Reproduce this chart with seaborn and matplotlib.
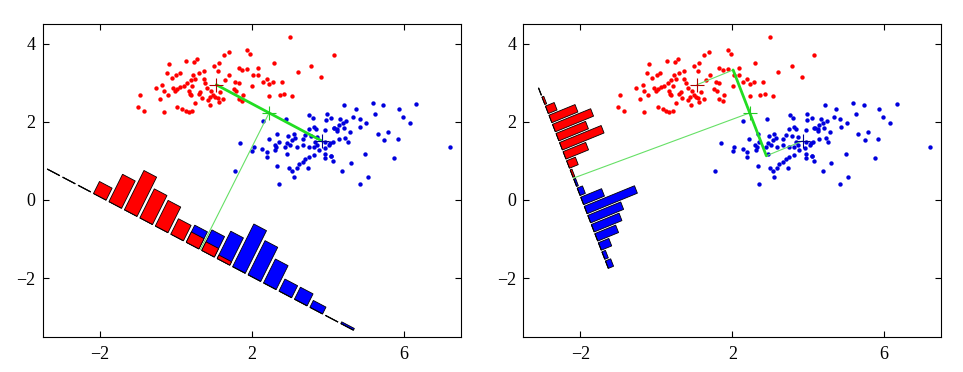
#!/usr/bin/env python
# -*- coding: utf-8 -*-

"""
Two-class data projected onto a line: the left panel uses the line joining the
class means, the right panel uses the Fisher linear discriminant direction.
"""

import numpy as np
import matplotlib
matplotlib.use("Agg")
import matplotlib.pyplot as plt
import matplotlib.transforms as mtransforms
import seaborn as sns

# -------------------------------
# Data
# -------------------------------
red_x = [1.40, 1.26, 1.13, 1.00, 1.11, 1.41, 1.31, 0.74, 0.61, 0.47, 0.11, 0.02,
         -0.10, -0.18, -0.24, 0.28, 0.49, 0.56, 0.40, 0.52, 0.74, 0.78, 0.30, 0.21,
         0.12, 0.04, -0.07, -0.01, -0.53, -0.36, -0.31, -0.21, -0.42, 0.34, 0.43, 0.37,
         0.40, 0.61, 0.65, 0.83, 0.94, 0.98, 0.90, 0.84, 0.69, 0.52, 1.04, 1.11,
         1.18, 1.25, 1.13, 0.91, 0.17, 0.26, 0.04, -0.31, -0.95, -1.00, -0.84, 0.43,
         0.34, 3.00, 1.88, 1.97, 4.16, 1.66, 1.75, 1.88, 2.17, 2.60, 3.56, 3.21,
         3.83, 2.04, 2.18, 2.40, 2.29, 2.47, 2.56, 2.80, 2.01, 1.57, 1.66, 1.53,
         1.60, 1.77, 1.66, 1.75, 2.47, 2.74, 2.86, 3.06]
red_y = [3.80, 3.71, 3.51, 3.42, 3.31, 3.19, 3.06, 3.29, 3.25, 3.19, 3.25, 3.20,
         3.12, 3.47, 3.25, 3.55, 3.54, 3.61, 3.06, 3.10, 3.10, 3.00, 3.00, 2.93,
         2.89, 2.85, 2.86, 2.80, 2.86, 2.95, 2.78, 2.69, 2.58, 2.80, 2.91, 2.72,
         2.68, 2.72, 2.76, 2.86, 2.80, 2.68, 2.64, 2.55, 2.61, 2.49, 2.64, 2.61,
         2.76, 2.58, 2.51, 2.42, 2.34, 2.29, 2.38, 2.24, 2.68, 2.38, 2.27, 2.27,
         2.24, 4.16, 3.84, 3.74, 3.71, 3.37, 3.33, 3.36, 3.38, 3.51, 3.44, 3.27,
         3.14, 3.20, 3.21, 3.10, 3.02, 2.97, 3.02, 3.03, 2.91, 3.02, 3.00, 2.85,
         2.80, 2.70, 2.58, 2.53, 2.66, 2.70, 2.72, 2.65]

blue_x = [2.29, 2.91, 3.52, 3.61, 3.98, 3.96, 4.16, 3.94, 3.63, 3.69, 3.50, 3.57,
          3.41, 3.72, 3.11, 2.97, 3.15, 3.06, 3.34, 2.67, 2.45, 2.71, 2.61, 2.64,
          2.93, 3.02, 2.89, 3.19, 3.34, 3.50, 3.63, 3.72, 3.68, 3.94, 4.04, 4.13,
          3.76, 3.92, 3.94, 4.10, 3.94, 3.63, 3.50, 3.41, 3.34, 3.24, 3.48, 3.19,
          2.99, 3.06, 3.11, 2.67, 2.27, 2.40, 2.40, 2.62, 2.93, 2.01, 2.05, 1.70,
          1.55, 2.71, 5.19, 5.46, 4.44, 4.74, 5.25, 5.87, 6.33, 5.98, 6.16, 4.67,
          4.84, 4.09, 4.33, 4.49, 4.40, 4.29, 4.18, 4.26, 4.42, 4.26, 5.02, 4.86,
          4.58, 5.32, 5.58, 5.84, 5.49, 4.47, 4.29, 4.53, 4.07, 7.21, 4.99, 5.76,
          4.09, 4.14, 4.61, 4.38, 5.05, 4.84]
blue_y = [2.02, 2.07, 2.17, 2.10, 2.19, 2.04, 1.85, 1.80, 1.87, 1.81, 1.83, 1.64,
          1.66, 1.62, 1.68, 1.64, 1.58, 1.53, 1.55, 1.68, 1.55, 1.49, 1.42, 1.36,
          1.45, 1.42, 1.36, 1.36, 1.42, 1.36, 1.36, 1.42, 1.49, 1.49, 1.42, 1.49,
          1.28, 1.32, 1.19, 1.13, 1.07, 1.15, 1.11, 1.05, 0.98, 0.91, 0.83, 0.81,
          0.83, 0.73, 0.60, 0.88, 1.30, 1.22, 1.11, 1.28, 1.17, 1.25, 1.36, 1.45,
          0.75, 0.41, 2.48, 2.42, 2.42, 2.34, 2.21, 2.34, 2.45, 2.13, 1.96, 2.13,
          2.08, 2.10, 2.08, 2.02, 1.96, 1.93, 1.85, 1.83, 1.85, 1.76, 1.98, 1.87,
          1.73, 1.68, 1.73, 1.56, 1.53, 1.59, 1.56, 1.49, 1.45, 1.36, 1.17, 1.07,
          1.13, 1.00, 0.94, 0.73, 0.58, 0.41]

red_mean = [1.07, 2.95]
blue_mean = [3.85, 1.51]

# histograms of the projected values, 20 bins along each projection line
bin_index = np.arange(20)
left_red_counts = [0, 0, 0, 7, 16, 23, 17, 15, 9, 6, 5, 2, 0, 0, 0, 0, 0, 0, 0, 0]
left_blue_counts = [0, 0, 0, 0, 0, 0, 0, 0, 0, 10, 12, 16, 25, 20, 14, 7, 7, 4, 0, 1]
right_red_counts = [0, 1, 5, 15, 22, 17, 24, 13, 5, 1, 0, 0, 0, 0, 0, 0, 0, 0, 0, 0]
right_blue_counts = [0, 0, 0, 0, 0, 0, 0, 0, 0, 0, 1, 3, 12, 29, 19, 16, 12, 6, 2, 3]

# projection lines: direction angle (deg), point where the threshold hits the line
left_angle = -27.1
right_angle = -68.3
left_foot = [0.65, -1.27]
right_foot = [-2.18, 0.56]
left_bin_width = 0.457
right_bin_width = 0.251
count_scale = 0.049

RED = "#ff0000"
BLUE = "#0000ff"
GREEN_THICK = "#22dd22"
GREEN_THIN = "#66e066"


# -------------------------------
# Functions
# -------------------------------
def draw_histogram(ax, angle, foot, bin_width, red_counts, blue_counts):
    """
    Draw histograms of the projected data as bars standing on a rotated line.
    The bars are built in (position along line, height) coordinates and mapped
    into data space by an affine transform.
    """
    a = np.deg2rad(angle)
    u = np.array([np.cos(a), np.sin(a)])
    n = np.array([-u[1], u[0]])
    mat = np.array([[u[0], n[0], foot[0]],
                    [u[1], n[1], foot[1]],
                    [0.0, 0.0, 1.0]])
    trans = mtransforms.Affine2D(mat) + ax.transData

    starts = (bin_index - 10) * bin_width + 0.09 * bin_width
    width = 0.82 * bin_width
    # the line itself: one short dash per bin
    ax.bar(starts, np.zeros(len(bin_index)), width=width, align="edge",
           fill=False, edgecolor="black", linewidth=0.9, transform=trans, zorder=3)
    ax.bar(starts, np.array(blue_counts) * count_scale, width=width, align="edge",
           color=BLUE, edgecolor="black", linewidth=0.6, transform=trans, zorder=3)
    ax.bar(starts, np.array(red_counts) * count_scale, width=width, align="edge",
           color=RED, edgecolor="black", linewidth=0.6, transform=trans, zorder=3)
    return u


def style_axes(ax):
    ax.set_xlim(-3.5, 7.5)
    ax.set_ylim(-3.5, 4.5)
    ax.set_xticks([-2, 2, 6])
    ax.set_yticks([-2, 0, 2, 4])
    ax.tick_params(direction="in", top=True, right=True, length=4, width=0.8,
                   labelsize=13, colors="black")
    ax.tick_params(axis="x", pad=7)
    ax.tick_params(axis="y", pad=5)
    for sp in ax.spines.values():
        sp.set_visible(True)
        sp.set_color("black")
        sp.set_linewidth(0.8)
    ax.set_xlabel("")
    ax.set_ylabel("")


def draw_panel(ax, angle, foot, bin_width, red_counts, blue_counts, fisher):
    sns.scatterplot(x=red_x, y=red_y, color=RED, s=10, linewidth=0, ax=ax,
                    legend=False, zorder=2)
    sns.scatterplot(x=blue_x, y=blue_y, color="#0000dd", s=10, linewidth=0, ax=ax,
                    legend=False, zorder=2)

    u = draw_histogram(ax, angle, foot, bin_width, red_counts, blue_counts)

    m1 = np.array(red_mean)
    m2 = np.array(blue_mean)
    mid = (m1 + m2) / 2
    ax.plot([mid[0], foot[0]], [mid[1], foot[1]], color=GREEN_THIN, lw=0.8, zorder=4)
    if fisher:
        p1 = mid + np.dot(m1 - mid, u) * u
        p2 = mid + np.dot(m2 - mid, u) * u
        ax.plot([m1[0], p1[0]], [m1[1], p1[1]], color=GREEN_THIN, lw=0.8, zorder=4)
        ax.plot([p2[0], m2[0]], [p2[1], m2[1]], color=GREEN_THIN, lw=0.8, zorder=4)
        ax.plot([p1[0], p2[0]], [p1[1], p2[1]], color=GREEN_THICK, lw=2.0, zorder=4)
    else:
        ax.plot([m1[0], m2[0]], [m1[1], m2[1]], color=GREEN_THICK, lw=2.0, zorder=4)

    ax.plot(*m1, marker="+", color="#b00000", ms=10, mew=0.8, zorder=5)
    ax.plot(*m2, marker="+", color="#000090", ms=10, mew=0.8, zorder=5)
    ax.plot(*mid, marker="+", color="#22cc22", ms=10, mew=0.8, zorder=5)
    style_axes(ax)


# -------------------------------
# Main
# -------------------------------
def main():
    sns.set_style("ticks")
    plt.rcParams["font.family"] = ["Liberation Serif", "DejaVu Serif"]

    fig = plt.figure(figsize=(9.63, 3.72), dpi=100)
    ax1 = fig.add_axes([0.0443, 0.0949, 0.434, 0.840])
    ax2 = fig.add_axes([0.5434, 0.0949, 0.434, 0.840])

    draw_panel(ax1, left_angle, left_foot, left_bin_width,
               left_red_counts, left_blue_counts, fisher=False)
    draw_panel(ax2, right_angle, right_foot, right_bin_width,
               right_red_counts, right_blue_counts, fisher=True)

    fig.savefig("out.png", dpi=100)
    plt.close(fig)


if __name__ == "__main__":
    main()
